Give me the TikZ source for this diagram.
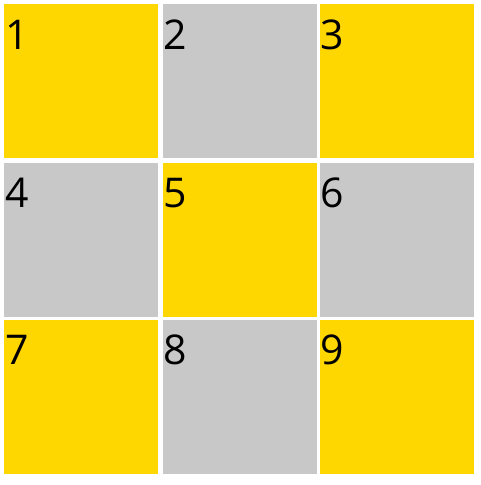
\documentclass[tikz,border=0pt]{standalone}
\usepackage{fontspec}
\setmainfont{Open Sans}
\definecolor{cellyellow}{HTML}{FFD700}
\definecolor{cellgray}{HTML}{C8C8C8}
\begin{document}
\begin{tikzpicture}[x=1pt,y=-1pt,
  cell/.style={inner sep=0pt, outer sep=0pt, minimum width=154pt, minimum height=154pt, anchor=north west},
  yel/.style={cell, fill=cellyellow},
  gry/.style={cell, fill=cellgray},
  num/.style={font=\fontsize{41}{41}\selectfont, inner sep=0pt, anchor=base west, text=black}]
\useasboundingbox (0,0) rectangle (481,485);
\fill[white] (0,0) rectangle (481,485);
\node[yel] (c1) at (4,4) {};
\node[gry] (c2) at (162.5,4) {};
\node[yel] (c3) at (319.5,4) {};
\node[gry] (c4) at (4,162.5) {};
\node[yel] (c5) at (162.5,162.5) {};
\node[gry] (c6) at (319.5,162.5) {};
\node[yel] (c7) at (4,319.5) {};
\node[gry] (c8) at (162.5,319.5) {};
\node[yel] (c9) at (319.5,319.5) {};
\foreach \i in {1,...,9}{
  \node[num] (t\i) at ([xshift=1pt,yshift=-45pt]c\i.north west) {\i};
}
\end{tikzpicture}
\end{document}
